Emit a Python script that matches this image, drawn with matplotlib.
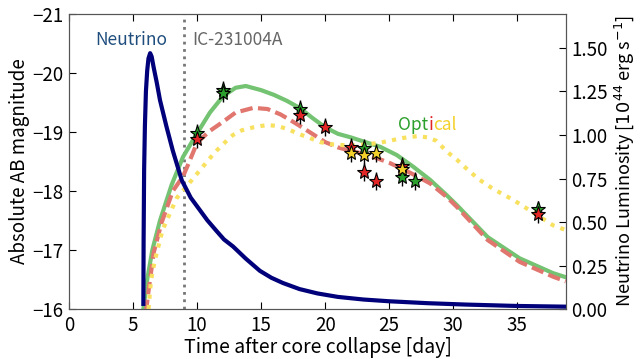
import matplotlib
matplotlib.use("Agg")
import matplotlib.pyplot as plt
from matplotlib.ticker import FormatStrFormatter

plt.rcParams['font.family'] = ['Noto Sans CJK JP', 'DejaVu Sans']
plt.rcParams['axes.unicode_minus'] = True

# ---- neutrino luminosity (right axis, 1e44 erg/s) ----
nu_day = [5.8, 5.82, 5.86, 5.92, 6.0, 6.1, 6.2, 6.33, 6.45, 6.6, 6.85, 7.1, 7.6, 8.1, 8.8,
          9.5, 10.2, 10.8, 11.5, 12.1, 12.8, 13.8, 14.9, 15.8, 16.7, 18.0, 19.4, 21.0, 23.0,
          25.0, 28.0, 31.0, 35.0, 38.8]
nu_lum = [0.03, 0.4, 0.8, 1.05, 1.25, 1.37, 1.44, 1.47, 1.45, 1.39, 1.30, 1.20, 1.05, 0.91, 0.74,
          0.64, 0.57, 0.51, 0.45, 0.40, 0.36, 0.29, 0.22, 0.18, 0.15, 0.115, 0.09, 0.07, 0.055,
          0.045, 0.034, 0.026, 0.018, 0.014]

# ---- optical model curves (absolute AB mag) ----
g_day = [5.8, 6.1, 6.5, 7.1, 8.0, 8.9, 10.0, 11.0, 12.0, 13.0, 13.8, 15.0, 16.0, 17.0, 18.0,
         19.0, 20.0, 21.0, 22.0, 23.0, 24.3, 25.6, 26.9, 28.2, 29.5, 30.3, 32.7, 35.2, 37.8, 38.8]
g_mag = [-16.0, -16.5, -17.0, -17.5, -18.1, -18.58, -18.98, -19.33, -19.6, -19.75, -19.78, -19.71,
         -19.63, -19.53, -19.41, -19.24, -19.08, -18.97, -18.91, -18.84, -18.75, -18.61, -18.41,
         -18.19, -17.93, -17.76, -17.22, -16.86, -16.61, -16.54]

r_day = [6.0, 6.2, 6.6, 7.2, 8.1, 8.9, 9.3, 10.0, 11.0, 12.0, 13.0, 14.4, 15.5, 16.5, 17.3, 18.2,
         19.0, 20.0, 21.0, 22.0, 23.0, 24.0, 25.0, 26.0, 27.0, 28.2, 29.5, 30.3, 32.7, 35.2, 37.8, 38.8]
r_mag = [-15.95, -16.3, -16.95, -17.45, -18.0, -18.25, -18.45, -18.82, -19.02, -19.17, -19.33,
         -19.41, -19.39, -19.3, -19.2, -19.08, -18.97, -18.83, -18.74, -18.68, -18.63, -18.56,
         -18.48, -18.38, -18.27, -18.13, -17.9, -17.73, -17.17, -16.8, -16.55, -16.47]

y_day = [6.2, 6.4, 6.7, 7.3, 8.4, 9.6, 10.4, 11.4, 12.2, 12.8, 13.5, 14.4, 15.5, 16.3, 17.1, 17.9,
         18.8, 19.6, 20.6, 22.0, 23.2, 24.3, 25.2, 26.1, 27.2, 28.0, 28.7, 29.5, 30.3, 31.1, 32.0,
         33.1, 34.7, 36.3, 37.8, 38.8]
y_mag = [-16.0, -16.49, -16.83, -17.34, -17.88, -18.19, -18.4, -18.66, -18.83, -18.95, -19.03,
         -19.08, -19.12, -19.1, -19.05, -18.97, -18.9, -18.83, -18.79, -18.77, -18.79, -18.82,
         -18.86, -18.9, -18.93, -18.91, -18.85, -18.67, -18.53, -18.37, -18.2, -18.04, -17.85,
         -17.63, -17.42, -17.34]

# ---- observed photometry (stars) ----
obs_g_day = [10.0, 12.0, 12.0, 18.0, 23.0, 26.0, 27.0, 36.6]
obs_g_mag = [-18.98, -19.71, -19.66, -19.39, -18.73, -18.24, -18.17, -17.69]
obs_r_day = [10.0, 18.0, 20.0, 22.0, 23.0, 24.0, 26.0, 36.6]
obs_r_mag = [-18.88, -19.29, -19.08, -18.75, -18.32, -18.17, -18.42, -17.61]
obs_y_day = [22.0, 23.0, 24.0, 26.0]
obs_y_mag = [-18.64, -18.61, -18.64, -18.37]
obs_err = 0.15

ic_day = 9.0

fig = plt.figure(figsize=(6.4, 3.59), dpi=100)
ax = fig.add_axes([0.108, 0.139, 0.776, 0.822])
ax2 = ax.twinx()

# model curves
ax.plot(g_day, g_mag, color='#74c372', lw=3, zorder=3)
ax.plot(r_day, r_mag, color='#e0766e', lw=3, ls=(0, (3, 1.3)), zorder=3)
ax.plot(y_day, y_mag, color='#f9e160', lw=3, ls=(0, (1, 1.5)), zorder=3)

# observed points
for d, m, c in [(obs_g_day, obs_g_mag, '#2ca02c'),
                (obs_r_day, obs_r_mag, '#e32626'),
                (obs_y_day, obs_y_mag, '#f4d12a')]:
    ax.errorbar(d, m, yerr=obs_err, fmt='*', color='black', ecolor='black', elinewidth=1,
                markerfacecolor=c, markeredgecolor='black', markeredgewidth=0.8,
                markersize=11, capsize=0, zorder=5)

ax.axvline(ic_day, color='#777777', ls=':', lw=2, zorder=2)

ax.set_xlim(0, 38.8)
ax.set_ylim(-16, -21)
ax.set_xticks([0, 5, 10, 15, 20, 25, 30, 35])
ax.set_yticks([-16, -17, -18, -19, -20, -21])
ax.set_xlabel('Time after core collapse [day]', fontsize=14, labelpad=1)
ax.set_ylabel('Absolute AB magnitude', fontsize=13.5, labelpad=2)
ax.tick_params(direction='in', top=True, labelsize=13.5, length=5, pad=4)

ax.text(4.85, -20.56, 'Neutrino', color='#1f4e7e', fontsize=12.5, ha='center', va='center')
ax.text(9.6, -20.56, 'IC-231004A', color='#666666', fontsize=12.5, ha='left', va='center')
tx = 25.7
for part, col in [('Opt', '#2ca02c'), ('i', '#e32626'), ('cal', '#f4d12a')]:
    t = ax.text(tx, -19.12, part, color=col, fontsize=12.5, ha='left', va='center')
    fig.canvas.draw()
    bb = t.get_window_extent().transformed(ax.transData.inverted())
    tx = bb.x1

# neutrino luminosity
ax2.plot(nu_day, nu_lum, color='#00007a', lw=3)
ax2.set_ylim(0, 1.695)
ax2.set_yticks([0, 0.25, 0.5, 0.75, 1.0, 1.25, 1.5])
ax2.yaxis.set_major_formatter(FormatStrFormatter('%.2f'))
ax2.set_ylabel(r'Neutrino Luminosity [$10^{44}$ erg s$^{-1}$]', fontsize=13, labelpad=3)
ax2.tick_params(direction='in', labelsize=13.5, length=5, pad=4)

for a in (ax, ax2):
    for s in a.spines.values():
        s.set_color('#555555')

fig.savefig('out.png', dpi=100)
